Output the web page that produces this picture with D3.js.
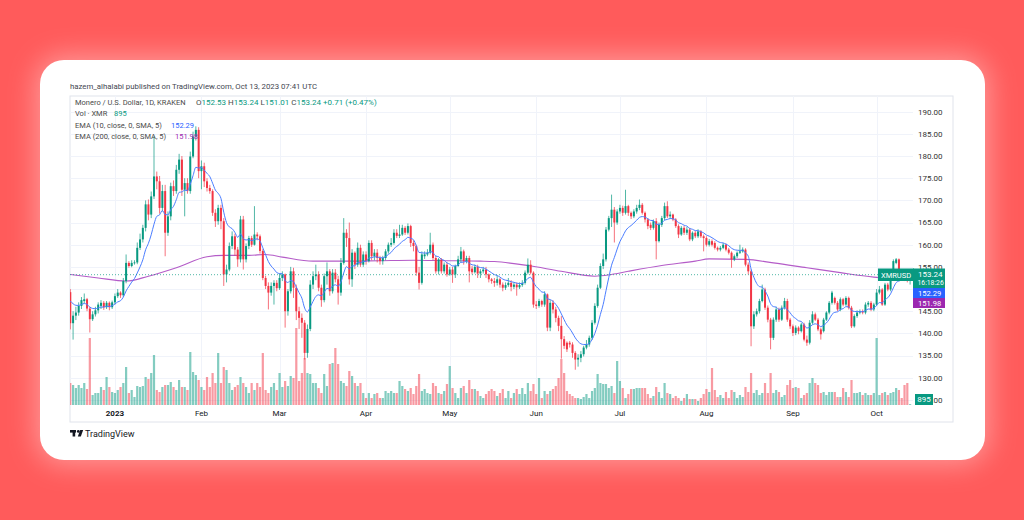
<!DOCTYPE html>
<html><head><meta charset="utf-8">
<script src="https://cdn.jsdelivr.net/npm/d3@7"></script>
<style>html,body{margin:0;padding:0;background:#ff5b5b;}svg{display:block;font-family:Roboto,'Liberation Sans',sans-serif;}</style>
</head><body><svg id="c" width="1024" height="520"></svg>
<script>
// ---- data (daily XMR/USD, Kraken), first candle 2022-12-16 ----
const startDate = "2022-12-16";
const opens = [
149.3,142.3,144.0,144.7,146.2,147.3,147.7,145.6,143.2,144.3,
145.2,146.2,146.9,145.9,146.9,145.9,147.0,148.4,149.2,148.6,
151.8,155.9,155.2,155.9,156.0,159.3,161.2,163.8,169.1,166.8,
170.9,175.4,174.3,168.3,172.1,162.7,166.4,173.2,172.1,176.9,
179.2,172.4,173.9,172.1,179.9,184.4,185.9,176.6,177.7,174.3,
172.8,172.1,167.2,165.3,168.3,165.3,153.3,154.4,159.7,161.9,
158.9,156.7,165.7,156.7,159.7,161.5,160.0,162.3,161.9,158.6,
152.5,150.7,149.2,150.7,151.4,150.2,152.5,153.3,145.0,149.5,
154.0,150.3,145.0,143.5,142.4,135.6,141.0,151.0,152.9,153.3,
150.3,147.5,152.9,154.0,149.5,153.7,152.2,149.2,155.9,162.7,
161.5,152.2,158.2,155.5,159.3,155.5,157.8,156.3,160.4,157.4,
158.2,157.0,156.3,157.0,158.5,160.0,160.4,162.7,162.0,162.3,
163.8,162.7,164.2,160.4,159.7,153.7,151.4,157.4,157.8,158.2,
160.0,157.0,154.0,156.7,154.0,155.5,153.3,154.4,153.3,155.2,
156.7,158.5,156.3,157.0,154.6,153.8,155.0,153.5,154.0,154.4,
153.3,152.2,151.8,151.4,152.2,151.0,150.3,150.9,151.4,150.5,
151.0,150.4,150.9,151.4,153.7,155.5,153.7,146.5,146.2,147.3,
146.5,148.8,141.3,146.9,145.4,143.5,141.7,138.7,137.9,137.9,
137.5,135.6,134.1,134.5,135.3,136.8,137.5,139.0,142.4,146.2,
150.3,155.2,156.7,163.4,166.0,167.9,165.0,167.5,168.3,167.2,
168.7,167.2,166.4,167.5,168.3,169.0,167.2,165.7,164.5,163.8,
165.3,160.8,164.5,166.0,168.7,166.4,166.8,165.7,164.2,162.3,
163.8,162.7,163.4,161.2,162.7,161.9,163.0,161.9,161.5,160.0,
160.8,160.4,159.3,158.9,159.3,160.0,158.9,158.2,156.7,157.4,
158.2,158.5,158.9,155.5,154.0,141.6,144.3,145.0,147.3,149.9,
145.8,143.1,139.0,143.1,145.4,143.1,145.8,147.3,143.1,141.6,
140.1,141.3,140.5,142.0,138.6,137.9,142.4,144.3,143.1,140.9,
140.5,143.1,144.7,146.9,148.0,146.9,145.4,147.7,146.5,148.0,
145.8,141.6,143.9,144.7,145.0,144.7,146.5,146.9,145.4,146.5,
149.2,149.9,146.5,151.0,149.9,152.9,155.9,156.7,153.5,153.0,
152.9,152.53];
const highs = [
150,145,146,147,148.2,149,148,146,145,146,
147,147.5,147.3,147.3,147.2,147.4,149,150,149.5,152.5,
157.8,156.3,156.5,156.5,160.5,162.5,164.5,170,170.2,172,
184.5,176.5,175.5,173.5,173.5,167.5,174,174.5,178,180.5,
180,175,175,181,185.5,186.7,186.5,179,178.5,175,
173.5,172.5,168,169,169,166,155.5,160.5,163,162.5,
159.5,166.5,166.5,160.3,162,162,168.7,162.8,162.3,159,
153,151.5,151.5,152,152,153.5,154,153.5,150,155,
154.8,151,146,144.5,143,142,152,154,155.5,154,
151,153.5,156,154.5,154.5,154.5,153,157,166,163.5,
165,159,158.5,160.5,160,158.5,158.5,161,161,159,
159,157.5,157.5,159,160.5,161.5,163.5,163.5,164.5,164.5,
164.2,164.8,164.5,161,160,155,158.5,158.5,159,162.7,
160.5,157.5,157,157,156,156,155,155,155.5,157.5,
159.5,158.9,157.5,157.5,155.2,155.5,155.5,154.5,155,155,
153.5,152.5,152.5,153,152.5,151.5,151.5,152.5,152,151.5,
151.5,151.5,152,154.2,156.9,156.5,154,147.3,147.8,147.6,
149.5,149,147.5,147.5,146,144,143.9,139.4,138.2,138.3,
138,136,135.3,136,137.2,138.5,139.5,143,146.8,151,
155.8,158,164,166.5,171.3,168.5,168,169,168.8,172.4,
169,167.5,168,169,170.2,169.4,167.5,166,165,165.7,
166,165,166.5,169.5,169.8,167.5,167,166,164.6,164.2,
164.2,164,163.8,163,163.1,163.5,163.3,162.3,161.9,161.3,
161.2,160.8,159.6,159.7,160.4,160.3,159.3,158.5,157.8,158.5,
160,159.4,159.2,156,154.4,145,145.6,147.8,151,150.3,
146.3,143.5,143.6,146,145.8,146.3,148,147.8,143.5,142,
141.8,141.6,142.4,142.4,139.5,143,145,144.7,143.5,141.3,
143.5,145,147.3,149.6,148.3,147.3,148.1,148,148.4,148.3,
146.2,144.3,145.2,145.4,145.4,147,147.3,147.3,146.9,150,
150.7,150.2,151.4,151.4,153.3,156.7,157,156.9,154,153.6,
153.3,153.24];
const lows = [
140.9,138.6,143,144,145.5,146.8,145,140.2,142.8,143.8,
144.5,145.5,145.3,145.5,145.2,145.5,146.5,148,148,148.2,
151.3,154.8,154.9,155.5,155.6,158.8,160.5,163,165.5,166,
170.3,172.5,167,167.5,157.4,162,165.5,171,171.5,176,
171,166.4,171.5,171.5,179.5,183.5,175,172.5,173,172,
171.5,166.5,164,164.5,163.5,150.7,151.5,154,159,157.5,
155,156,154.4,156,159,159.5,159.8,161,158,152,
150,145.4,148.5,146.5,149.5,149.8,151.8,141.3,144,149,
148,143,141,139,134.1,134.5,140.5,150,152,149.5,
146,147,151,148.5,149,151.5,146.5,148.5,155.5,159.5,
151,150.5,154.5,155,155,155,155.5,156,156.5,156.5,
156,155.5,155.5,156.5,158,159.5,160,161.5,161.5,162,
162.2,162.3,159.5,158.5,153,149.9,151,156.8,157.4,157.8,
156.5,153.5,153.3,153.5,153.5,152.8,153,151.4,152.5,155,
156,155.5,155.8,151.5,153.3,153.5,152.5,152.5,153.5,152.5,
151.5,151.2,150.5,150.8,150.3,149.5,149.8,150.5,149.5,150,
148.5,150,150.5,151,153.3,153.3,145.8,145.5,145.8,146,
146,140.5,140.5,144.5,142.5,140.5,134.3,136.5,135.8,136.8,
134.5,131.8,132.5,133.5,134.8,136.4,137,138.5,142,145.8,
150,154.5,156.2,163,164,160.5,164.5,167,166.5,166.8,
166.5,165.8,166,167,167.8,166.8,165,163.5,163.3,163.4,
156.7,160.5,164,165.5,166,165.8,165.3,163.8,161.5,162,
162.2,162.2,160.8,160.8,161.5,161.5,161.5,158.5,159.6,159.6,
159.6,158.9,158.5,158.5,159,158.5,157.8,154.8,156.3,157,
157.9,158.2,155.1,153.3,137.1,141,143.8,144.5,147,145.3,
142.5,136.4,138.5,142.6,142.6,142.8,145.4,142.6,141,139.4,
139.6,139.8,140.2,138.2,137.2,137.5,142,142.8,140.5,138.6,
140.2,142.8,144.3,146.5,146.5,145,145,146.1,146.2,145.4,
141.2,141.3,143.5,144.3,144.3,144.3,146,145,145,146.2,
148.8,146.2,146.2,149.5,149.5,152.5,155.6,153,152.3,151.8,
151.5,151.01];
const closes = [
142.3,144.0,144.7,146.2,147.5,147.7,145.6,143.2,144.3,145.2,
146.5,146.9,145.9,146.9,145.9,147.0,148.4,149.2,148.6,151.8,
155.9,155.2,155.9,156.0,159.3,161.2,163.8,169.1,166.8,170.9,
175.4,174.3,168.3,172.1,162.7,166.4,173.2,172.1,176.9,179.2,
172.4,173.9,172.1,179.9,184.4,185.9,176.6,177.7,174.3,172.8,
172.1,167.2,165.3,168.3,165.3,153.3,154.4,159.7,161.9,158.9,
156.7,165.7,156.7,159.7,161.5,160.0,162.3,161.9,158.6,152.5,
150.7,149.2,150.7,151.4,150.2,152.5,153.3,145.0,149.5,154.0,
150.3,145.0,143.5,142.4,135.6,141.0,151.0,152.9,153.3,150.3,
147.5,152.9,154.0,149.5,153.7,152.2,149.2,155.9,162.7,161.5,
152.2,158.2,155.5,159.3,155.5,157.8,156.3,160.4,157.4,158.2,
157.0,156.3,157.0,158.5,160.0,160.4,162.7,162.0,162.3,163.8,
162.7,164.2,160.4,159.7,153.7,151.4,157.8,157.8,158.2,160.0,
157.0,154.0,156.7,154.0,155.5,153.3,154.4,153.3,155.2,156.7,
158.5,156.3,157.0,154.0,153.8,155.0,153.5,154.0,154.4,153.3,
152.2,151.8,151.4,152.2,151.0,150.3,150.9,151.4,150.5,151.0,
150.4,150.9,151.4,153.7,155.5,153.7,146.5,146.2,147.3,146.5,
148.8,141.3,146.9,145.4,143.5,141.7,138.7,137.2,136.4,137.5,
135.6,134.1,134.5,135.3,136.8,137.5,139.0,142.4,146.2,150.3,
155.2,156.7,163.4,166.0,167.9,165.0,167.5,168.3,167.2,168.7,
167.2,166.4,167.5,168.3,169.0,167.2,165.7,164.2,163.8,165.3,
160.8,164.5,166.0,168.7,166.4,166.8,165.7,164.2,162.3,163.8,
162.7,163.4,161.2,162.7,161.9,163.0,161.9,161.5,160.0,160.8,
160.0,159.3,158.9,159.3,160.0,158.9,158.2,156.7,157.4,158.2,
158.5,158.9,155.5,154.0,141.6,144.3,145.0,147.3,149.9,145.8,
143.1,139.0,143.1,145.4,143.1,145.8,147.3,143.1,141.6,140.1,
141.3,140.5,142.0,138.6,137.9,142.4,144.3,143.1,140.9,139.8,
143.1,144.7,146.9,149.2,146.9,145.4,147.7,146.5,148.0,145.8,
141.6,143.9,144.7,145.0,144.7,146.5,146.9,145.4,146.5,149.2,
149.9,146.5,151.0,149.9,152.9,156.3,156.7,153.5,153.0,152.6,
152.53,153.24];
// volume in thousands of XMR
const volumesK = [
22,20,17,20,17,22,16,67,10,12,
12,18,15,28,18,13,12,15,18,22,
38,12,15,8,19,18,19,28,26,32,
50,15,13,18,20,20,23,18,15,25,
18,18,15,53,33,30,25,18,15,28,
18,32,22,52,22,38,35,22,15,18,
20,28,22,18,12,22,15,22,18,52,
15,12,18,22,15,32,18,24,19,29,
27,77,24,32,47,32,31,22,22,17,
12,31,19,41,42,57,41,24,22,19,
34,29,22,19,22,12,7,12,7,11,
12,7,7,14,12,14,12,12,24,19,
16,14,17,11,19,31,14,16,12,11,
22,19,12,11,14,21,39,17,12,7,
17,19,12,25,16,16,14,9,7,11,
14,16,14,9,12,16,7,14,7,12,
16,11,17,11,22,14,21,11,27,7,
14,11,14,16,19,27,46,32,14,11,
9,7,7,6,8,11,7,14,17,31,
22,21,21,17,19,12,44,24,17,7,
11,16,16,17,17,17,17,11,7,9,
18,13,7,22,12,11,7,9,7,4,
7,11,6,6,6,4,7,11,16,13,
37,15,8,10,7,13,7,15,13,7,
10,8,18,13,32,12,15,10,12,22,
12,32,12,15,13,8,10,20,25,17,
18,17,7,10,12,22,27,22,20,12,
13,10,13,13,13,8,8,17,13,8,
25,12,12,13,10,12,10,10,12,67,
10,12,13,10,12,13,17,15,7,20,
22,0.895];
const ema10Prev = 148.4;   // EMA(10) value on the day before the first candle
const ema200Idx = [0,10,20,28,38,49,55,64,70,76,87,99,111,123,135,147,152,164,176,188,194,200,212,224,229,242,252,264,276,288,295,301];
const ema200Val = [153.3,152.5,151.8,152.9,154.8,157.3,157.6,157.6,157.8,157.2,156.3,156.3,156.4,156.5,156.4,156.3,156.2,155.3,154.0,152.9,153.3,154.0,155.3,156.3,156.8,156.7,155.9,154.8,153.7,152.7,152.3,151.98];
const priceTicks = [125,130,135,140,145,150,155,160,165,170,175,180,185,190];
const monthTickDates = ["2023-01-01","2023-02-01","2023-03-01","2023-04-01","2023-05-01","2023-06-01","2023-07-01","2023-08-01","2023-09-01","2023-10-01"];
const monthTickLabels = ["2023","Feb","Mar","Apr","May","Jun","Jul","Aug","Sep","Oct"];

// ---- drawing ----
const GREEN="#089981", RED="#f23645";
const svg = d3.select("#c");
const dayMs = 864e5;
const t0 = new Date(startDate+"T00:00:00Z");
const dates = closes.map((_,i)=>new Date(+t0 + i*dayMs));
const x = d3.scaleUtc().domain([dates[0], dates[dates.length-1]]).range([70.3, 910.1]);
const y = d3.scaleLinear().domain([125,190]).range([399.9,111.7]);
const yV = d3.scaleLinear().domain([0,80]).range([405,325]);
const PL=70, PR=913, PT=96, PB=405;

const defs = svg.append("defs");
defs.append("filter").attr("id","glow").attr("x","-20%").attr("y","-20%").attr("width","140%").attr("height","140%")
  .append("feGaussianBlur").attr("stdDeviation",14);
defs.append("clipPath").attr("id","plot").append("rect").attr("x",PL).attr("y",PT).attr("width",PR-PL).attr("height",PB-PT);
defs.append("clipPath").attr("id","axisClip").append("rect").attr("x",933).attr("y",390).attr("width",20).attr("height",16);

svg.append("rect").attr("width",1024).attr("height",520).attr("fill","#ff5b5b");
svg.append("rect").attr("x",36).attr("y",56).attr("width",953).attr("height",408).attr("rx",28)
  .attr("fill","#ffc4c4").attr("opacity",0.6).attr("filter","url(#glow)");
svg.append("rect").attr("x",40).attr("y",60).attr("width",945).attr("height",400).attr("rx",24).attr("fill","#ffffff");

// header
svg.append("text").attr("x",70).attr("y",88.5).attr("font-size",7.8).attr("fill","#434651")
  .text("hazem_alhalabi published on TradingView.com, Oct 13, 2023 07:41 UTC");

// frame
svg.append("rect").attr("x",PL).attr("y",PT).attr("width",953-PL).attr("height",422-PT)
  .attr("fill","none").attr("stroke","#e0e3eb").attr("stroke-width",1);

// grid
const g = svg.append("g");
g.selectAll("line.h").data(priceTicks).join("line")
  .attr("x1",PL).attr("x2",PR).attr("y1",d=>Math.round(y(d))+0.5).attr("y2",d=>Math.round(y(d))+0.5)
  .attr("stroke","#f0f3fa").attr("stroke-width",1);
const monthDates = monthTickDates.map(s=>new Date(s+"T00:00:00Z"));
g.selectAll("line.v").data(monthDates).join("line")
  .attr("x1",d=>Math.round(x(d))+0.5).attr("x2",d=>Math.round(x(d))+0.5).attr("y1",PT).attr("y2",PB)
  .attr("stroke","#f0f3fa").attr("stroke-width",1);

const plot = svg.append("g").attr("clip-path","url(#plot)");

// volume
const idx = d3.range(closes.length);
plot.selectAll("rect.vol").data(idx).join("rect")
  .attr("x",i=>x(dates[i])-1.1).attr("width",2.2)
  .attr("y",i=>yV(volumesK[i])).attr("height",i=>PB-yV(volumesK[i]))
  .attr("fill",i=>closes[i]>=opens[i]?GREEN:RED).attr("opacity",0.5);

// EMA 200
const lineGen = d3.line().x(d=>x(dates[d[0]])).y(d=>y(d[1])).curve(d3.curveMonotoneX);
plot.append("path").datum(ema200Idx.map((k,j)=>[k,ema200Val[j]]))
  .attr("d",lineGen).attr("fill","none").attr("stroke","#b45cc8").attr("stroke-width",1.1);

// candles
const cg = plot.append("g");
cg.selectAll("line.wick").data(idx).join("line")
  .attr("x1",i=>x(dates[i])).attr("x2",i=>x(dates[i]))
  .attr("y1",i=>y(highs[i])).attr("y2",i=>y(lows[i]))
  .attr("stroke",i=>closes[i]>=opens[i]?GREEN:RED).attr("stroke-width",1).attr("opacity",0.7);
cg.selectAll("rect.body").data(idx).join("rect")
  .attr("x",i=>x(dates[i])-1).attr("width",2)
  .attr("y",i=>y(Math.max(opens[i],closes[i])))
  .attr("height",i=>Math.max(0.8,Math.abs(y(opens[i])-y(closes[i]))))
  .attr("fill",i=>closes[i]>=opens[i]?GREEN:RED);

// EMA 10 (computed from closes)
const k = 2/11; let prev = ema10Prev; const ema10 = [];
closes.forEach((c,i)=>{ prev = c*k + prev*(1-k); ema10.push([i,prev]); });
plot.append("path").datum(ema10).attr("d",lineGen).attr("fill","none").attr("stroke","#4a7dff").attr("stroke-width",1);

// last price dotted line
const last = closes[closes.length-1];
plot.append("line").attr("x1",PL).attr("x2",PR).attr("y1",y(last)).attr("y2",y(last))
  .attr("stroke",GREEN).attr("stroke-dasharray","1,2").attr("opacity",0.7);

// price axis labels (150.00 hidden behind price tags; 125.00 mostly hidden behind the volume tag)
svg.append("g").selectAll("text").data(priceTicks.filter(d=>d!==150 && d!==125)).join("text")
  .attr("x",918).attr("y",d=>y(d)).attr("dy","0.35em").attr("font-size",8).attr("fill","#333")
  .text(d=>d.toFixed(2));
svg.append("text").attr("clip-path","url(#axisClip)").attr("x",918).attr("y",y(125)).attr("dy","0.35em")
  .attr("font-size",8).attr("fill","#333").text((125).toFixed(2));

// x axis labels
svg.append("g").selectAll("text").data(monthDates).join("text")
  .attr("x",d=>x(d)).attr("y",413.5).attr("dy","0.35em").attr("text-anchor","middle")
  .attr("font-size",8).attr("fill","#131722").attr("font-weight",(d,i)=>i===0?"bold":"normal")
  .text((d,i)=>monthTickLabels[i]);

// legend
const leg = svg.append("g").attr("font-size",7.5).attr("fill","#4a4a4a");
const l1 = leg.append("text").attr("x",75).attr("y",105);
l1.append("tspan").text("Monero / U.S. Dollar, 1D, KRAKEN");
const ohlc = [["O",opens],["H",highs],["L",lows],["C",closes]];
ohlc.forEach((p,j)=>{
  const t = l1.append("tspan").attr("font-size",8).text((j===0?"":"\u00a0")+p[0]);
  if(j===0) t.attr("x",196);
  l1.append("tspan").attr("font-size",8).attr("fill",GREEN).text(p[1][p[1].length-1].toFixed(2));
});
l1.append("tspan").attr("font-size",8).attr("fill",GREEN).text("\u00a0+0.71 (+0.47%)");
const l2 = leg.append("text").attr("x",75).attr("y",116);
l2.append("tspan").text("Vol · XMR");
l2.append("tspan").attr("x",114).attr("fill",GREEN).text(Math.round(volumesK[volumesK.length-1]*1000));
const l3 = leg.append("text").attr("x",75).attr("y",127.5);
l3.append("tspan").text("EMA (10, close, 0, SMA, 5)");
l3.append("tspan").attr("x",171).attr("fill","#2962ff").text("152.29");
const l4 = leg.append("text").attr("x",75).attr("y",138.5);
l4.append("tspan").text("EMA (200, close, 0, SMA, 5)");
l4.append("tspan").attr("x",175).attr("fill","#9c27b0").text(ema200Val[ema200Val.length-1].toFixed(2));

// price tags on axis
const tags = svg.append("g");
tags.append("rect").attr("x",878).attr("y",268.5).attr("width",36).attr("height",12.5).attr("fill",GREEN);
tags.append("rect").attr("x",913).attr("y",268.5).attr("width",32).attr("height",19.5).attr("fill",GREEN);
tags.append("text").attr("x",881).attr("y",275).attr("dy","0.35em").attr("font-size",7.5).attr("fill","#fff").text("XMRUSD");
tags.append("text").attr("x",918).attr("y",274).attr("dy","0.35em").attr("font-size",8).attr("fill","#fff").text(last.toFixed(2));
tags.append("text").attr("x",917.5).attr("y",282.8).attr("dy","0.35em").attr("font-size",6.8).attr("fill","#fff").text("16:18:26");
tags.append("rect").attr("x",913).attr("y",288).attr("width",32).attr("height",10).attr("fill","#2962ff");
tags.append("text").attr("x",918).attr("y",293.2).attr("dy","0.35em").attr("font-size",7.6).attr("fill","#fff").text("152.29");
tags.append("rect").attr("x",913).attr("y",298).attr("width",32).attr("height",10).attr("fill","#9c27b0");
tags.append("text").attr("x",918).attr("y",303.2).attr("dy","0.35em").attr("font-size",7.6).attr("fill","#fff").text(ema200Val[ema200Val.length-1].toFixed(2));
tags.append("rect").attr("x",915).attr("y",394).attr("width",18).attr("height",11).attr("fill",GREEN);
tags.append("text").attr("x",924).attr("y",399.5).attr("dy","0.35em").attr("text-anchor","middle").attr("font-size",8).attr("fill","#fff")
  .text(Math.round(volumesK[volumesK.length-1]*1000));

// TradingView logo
const logo = svg.append("g").attr("fill","#131722");
logo.append("rect").attr("x",70).attr("y",430).attr("width",6).attr("height",2.6);
logo.append("rect").attr("x",72.6).attr("y",430).attr("width",2.6).attr("height",6.5);
logo.append("circle").attr("cx",78.3).attr("cy",431.4).attr("r",1.4);
logo.append("path").attr("d","M80.2,430 L83.2,430 L80.8,436.5 L77.8,436.5 Z");
svg.append("text").attr("x",85).attr("y",436.5).attr("font-size",9).attr("fill","#131722").text("TradingView");
</script></body></html>
